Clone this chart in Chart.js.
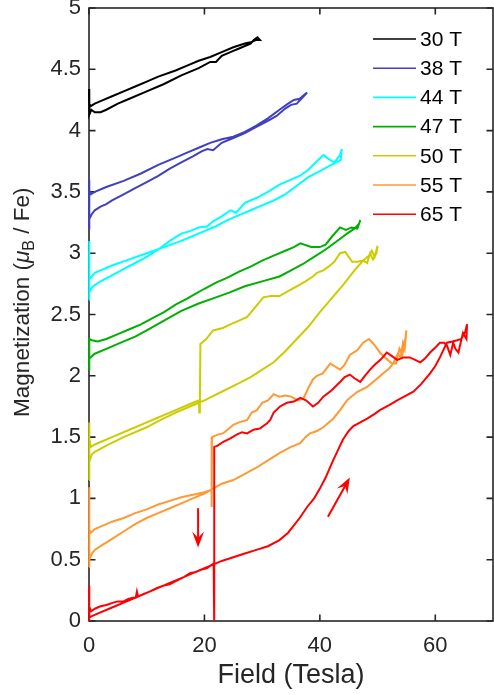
<!DOCTYPE html>
<html><head><meta charset="utf-8">
<script src="https://cdn.jsdelivr.net/npm/chart.js@4"></script>
<style>html,body{margin:0;padding:0;background:#fff}#wrap{width:494px;height:695px}</style>
</head><body><div id="wrap"><canvas id="c" width="494" height="695"></canvas></div>
<script>
// ---- data (field in Tesla, magnetization in muB/Fe), each pulse: up sweep then down sweep ----
const seriesLabels = ['30 T','38 T','44 T','47 T','50 T','55 T','65 T'];
const xTickValues = [0,20,40,60];
const yTickStep = 0.5;

const t30 = [[0,4.34],[0.05,4.13],[0.4,4.17],[1,4.15],[2,4.15],[3,4.17],[5,4.22],[7,4.26],[10,4.32],[13,4.38],[16,4.45],[19,4.51],[21,4.56],[22,4.56],[23,4.61],[24,4.63],[25,4.65],[26,4.67],[27,4.69],[28,4.71],[28.6,4.74],[29.2,4.76],[29.6,4.74],
  [29,4.74],[28,4.72],[27,4.71],[25,4.68],[23,4.64],[21,4.6],[19,4.57],[17,4.53],[15,4.49],[12,4.44],[10,4.4],[8,4.36],[6,4.32],[4,4.28],[2,4.24],[1,4.22],[0.3,4.2],[0,4.22]];

const t38 = [[0,3.2],[0,3.6],[0.1,3.28],[0.5,3.32],[1,3.35],[2,3.38],[3,3.4],[4,3.43],[6,3.48],[8,3.53],[10,3.58],[12,3.63],[14,3.69],[16,3.74],[18,3.79],[19.5,3.83],[20.5,3.85],[21.5,3.84],[23,3.9],[25,3.94],[27,3.98],[29,4.03],[31,4.08],[32.5,4.12],[34,4.18],[35,4.21],[36,4.22],[37,4.27],[37.8,4.31],
  [37.5,4.3],[36.5,4.26],[35.5,4.25],[34.5,4.22],[33,4.17],[31,4.1],[29,4.04],[27,3.99],[25,3.95],[23,3.93],[21,3.9],[19,3.86],[17,3.82],[15,3.78],[12,3.72],[9,3.65],[6,3.59],[3,3.54],[1,3.5],[0.3,3.48],[0,3.52]];

const t44 = [[0,2.62],[0,3.1],[0.1,2.68],[0.5,2.72],[1,2.74],[2,2.77],[4,2.82],[6,2.87],[8,2.92],[10,2.97],[12,3.03],[14,3.1],[16,3.16],[17.5,3.18],[19,3.21],[20.5,3.22],[21.5,3.26],[23,3.3],[24.5,3.35],[25.5,3.33],[27,3.41],[29,3.45],[31,3.5],[33,3.56],[35,3.6],[36.5,3.63],[38,3.68],[39.5,3.75],[40.6,3.8],[41.5,3.77],[42.5,3.74],[43.5,3.8],[43.8,3.85],
  [43.6,3.76],[42,3.72],[40,3.67],[38,3.62],[36,3.55],[34,3.48],[32,3.43],[30,3.39],[28,3.35],[26,3.31],[24,3.27],[22,3.22],[20,3.18],[18,3.14],[16,3.1],[13,3.05],[10,3.0],[7,2.95],[4,2.9],[2,2.86],[1,2.84],[0.3,2.8],[0,2.82]];

const t47 = [[0,2.05],[0,2.31],[0.1,2.14],[0.5,2.16],[1,2.18],[3,2.22],[5,2.26],[8,2.32],[10,2.37],[13,2.45],[16,2.53],[19,2.59],[22,2.64],[24.4,2.68],[27,2.73],[30,2.77],[33,2.81],[35,2.86],[37,2.91],[39,2.97],[41,3.03],[43,3.1],[44.7,3.16],[46,3.2],[46.8,3.24],[47,3.27],
  [46.5,3.2],[45.5,3.21],[44.5,3.19],[43.5,3.21],[42,3.13],[41,3.07],[40,3.05],[38.5,3.05],[36.6,3.08],[35.5,3.05],[34,3.02],[32,2.98],[30,2.94],[28,2.89],[26,2.85],[24,2.8],[22,2.76],[20,2.71],[18.5,2.67],[17,2.63],[15,2.58],[13,2.52],[11,2.47],[9,2.42],[7,2.38],[5,2.34],[3,2.3],[1.5,2.28],[0.5,2.29],[0,2.3]];

const t50 = [[0,1.15],[0,1.62],[0.1,1.3],[0.5,1.36],[1,1.38],[3,1.43],[6,1.5],[10,1.58],[12,1.63],[15,1.7],[18,1.76],[20,1.8],[23,1.87],[26,1.94],[28,1.99],[30,2.05],[32,2.11],[34,2.2],[36,2.3],[38,2.4],[40,2.52],[42,2.63],[44,2.74],[46,2.86],[47.5,2.94],[48.5,2.98],[49,3.02],[49.5,2.97],[50,3.06],
  [49.8,3.0],[49.2,2.95],[48.7,3.0],[48.2,2.92],[47.5,2.94],[46.5,2.93],[45.6,2.93],[44.4,3.01],[43.5,3.0],[42.5,2.93],[41.5,2.89],[40.6,2.86],[39.5,2.84],[38.8,2.81],[37.5,2.77],[36,2.73],[34.5,2.69],[33,2.65],[31.5,2.65],[30.2,2.64],[29,2.57],[27.4,2.48],[26,2.45],[24.5,2.42],[23.2,2.39],[21.5,2.37],[20.3,2.3],[19.3,2.26],[19.2,1.7],[19.1,1.8],[18,1.78],[16,1.74],[14,1.7],[12,1.66],[10,1.62],[7,1.56],[4,1.5],[2,1.46],[1,1.44],[0.3,1.42],[0,1.5]];

const t55 = [[0,0.44],[0,1.09],[0.1,0.5],[0.5,0.55],[1,0.58],[2,0.61],[4,0.67],[6,0.73],[8,0.79],[10,0.84],[12,0.88],[14,0.92],[16,0.96],[18,1.0],[20,1.04],[21.5,1.08],[23,1.12],[25,1.15],[27,1.2],[29,1.25],[31,1.31],[33,1.37],[35,1.42],[36.6,1.45],[37.5,1.5],[38.3,1.53],[39.5,1.55],[40.6,1.58],[42.3,1.65],[43.5,1.72],[44.7,1.8],[46.5,1.87],[48.2,1.91],[50,1.98],[51,2.02],[52,2.06],[52.7,2.1],[53.5,2.18],[54,2.15],[54.4,2.27],[54.7,2.22],[55,2.37],
  [54.8,2.3],[54.3,2.17],[53.8,2.22],[53.2,2.1],[52.5,2.1],[51.5,2.14],[50.4,2.19],[49.5,2.25],[48.5,2.3],[47.5,2.27],[46.5,2.21],[45.2,2.17],[44.3,2.09],[43.5,2.05],[42.5,2.08],[41.8,2.1],[40.5,2.02],[39.5,2.0],[38.8,1.97],[38,1.9],[37.2,1.82],[36.2,1.8],[35,1.83],[34,1.84],[33,1.83],[32,1.85],[31,1.8],[30,1.78],[29.1,1.72],[28.2,1.7],[27.4,1.64],[26,1.62],[25,1.6],[24,1.56],[23.2,1.53],[22.3,1.52],[21.3,1.5],[21.3,0.93],[21.2,1.07],[20,1.05],[18,1.03],[16,1.01],[14,0.98],[12,0.95],[10,0.91],[8,0.88],[6,0.84],[4,0.81],[2,0.77],[1,0.75],[0.3,0.72],[0,0.75]];

const t65 = [[0,0],[0,0.29],[0.1,0.03],[0.5,0.04],[1,0.05],[2,0.07],[4,0.11],[6,0.15],[8,0.19],[10,0.23],[12,0.27],[14,0.31],[16,0.35],[18,0.39],[20,0.43],[21.5,0.46],[23,0.49],[25,0.52],[27,0.55],[29,0.58],[31,0.61],[33,0.66],[34.5,0.72],[35.5,0.78],[36.5,0.84],[37.8,0.93],[39,1.0],[40,1.08],[41,1.17],[42.3,1.31],[43.2,1.4],[44,1.48],[45,1.55],[45.8,1.59],[47,1.62],[48.2,1.65],[49.5,1.69],[50.4,1.72],[52,1.76],[53.4,1.8],[55,1.84],[56.2,1.87],[57.5,1.93],[59.1,2.02],[60,2.08],[60.8,2.15],[61.5,2.22],[62,2.27],[63,2.28],[63.8,2.29],[64.5,2.3],[65.2,2.36],[65.5,2.42],
  [65.4,2.3],[64.8,2.35],[64.6,2.31],[64,2.19],[63.5,2.22],[63.1,2.27],[62.6,2.17],[62,2.25],[61.5,2.27],[60.8,2.27],[60,2.23],[59.1,2.19],[58.2,2.14],[57.4,2.11],[56.5,2.13],[55.6,2.15],[54.5,2.15],[53.4,2.13],[52.5,2.16],[51.6,2.19],[50.5,2.13],[49.5,2.09],[48.7,2.05],[47.8,2.0],[47,1.95],[46,1.98],[45.2,2.01],[44.3,1.99],[43.5,1.95],[42,1.88],[40.6,1.83],[39.7,1.78],[38.8,1.75],[37.6,1.8],[36.6,1.82],[35.5,1.79],[34.3,1.78],[33.1,1.75],[32,1.7],[31.4,1.64],[30.8,1.61],[29.6,1.57],[28.5,1.56],[27.4,1.53],[26.5,1.54],[25.6,1.52],[24.5,1.49],[23.2,1.46],[22.3,1.43],[21.7,1.42],[21.7,-0.05],[21.6,0.47],[20.4,0.43],[19.5,0.42],[18.5,0.4],[17.5,0.39],[16.5,0.36],[15.2,0.33],[14,0.3],[13,0.29],[11.8,0.27],[10.5,0.24],[9.5,0.22],[8.5,0.2],[8.3,0.24],[8.1,0.19],[7.6,0.19],[6.8,0.18],[6,0.16],[5,0.16],[4.2,0.15],[3,0.13],[2,0.12],[1,0.1],[0.4,0.08],[0,0.12]];

const curves = [t30,t38,t44,t47,t50,t55,t65];
// arrow annotations [fromField, fromM, toField, toM]
const arrowDown = [18.9, 0.92, 18.9, 0.60];
const arrowUp = [41.4, 0.85, 45.2, 1.17];

// ---- styles ----
const seriesColors = ['#000000','#4040C0','#00FFFF','#00B000','#CCCC00','#FF9933','#FF0000'];
const fam = '"Liberation Sans", Arial, Helvetica, sans-serif';
const axisColor = '#262626';

const framePlugin = {
  id:'frame',
  beforeDatasetsDraw(chart){
    const {ctx, chartArea:a, scales:{x,y}} = chart;
    const tl = 6.5;
    ctx.save();
    ctx.strokeStyle = axisColor; ctx.lineWidth = 1.6;
    ctx.strokeRect(a.left, a.top, a.right-a.left, a.bottom-a.top);
    ctx.beginPath();
    xTickValues.forEach(v=>{const p=x.getPixelForValue(v);ctx.moveTo(p,a.bottom);ctx.lineTo(p,a.bottom-tl);ctx.moveTo(p,a.top);ctx.lineTo(p,a.top+tl);});
    y.ticks.forEach(t=>{const p=y.getPixelForValue(t.value);ctx.moveTo(a.left,p);ctx.lineTo(a.left+tl,p);ctx.moveTo(a.right,p);ctx.lineTo(a.right-tl,p);});
    ctx.stroke();
    ctx.restore();
  },
  afterDatasetsDraw(chart){
    const {ctx, chartArea:a, scales:{x,y}} = chart;
    [arrowDown, arrowUp].forEach(ar=>{
      const x1=x.getPixelForValue(ar[0]), y1=y.getPixelForValue(ar[1]);
      const x2=x.getPixelForValue(ar[2]), y2=y.getPixelForValue(ar[3]);
      const ang=Math.atan2(y2-y1,x2-x1), L=16, W=6;
      ctx.save();
      ctx.strokeStyle='#FF0000'; ctx.fillStyle='#FF0000'; ctx.lineWidth=2;
      ctx.beginPath(); ctx.moveTo(x1,y1); ctx.lineTo(x2-Math.cos(ang)*8,y2-Math.sin(ang)*8); ctx.stroke();
      ctx.translate(x2,y2); ctx.rotate(ang);
      ctx.beginPath(); ctx.moveTo(0,0); ctx.lineTo(-L,-W); ctx.lineTo(-L*0.6,0); ctx.lineTo(-L,W); ctx.closePath(); ctx.fill();
      ctx.restore();
    });
    ctx.save();
    ctx.font = `21px ${fam}`; ctx.textBaseline='middle'; ctx.textAlign='left';
    chart.data.datasets.forEach((ds,i)=>{
      const yy = a.top + 31 + i*29.2;
      ctx.strokeStyle = ds.borderColor; ctx.lineWidth = 1.6;
      ctx.beginPath(); ctx.moveTo(a.right-120, yy); ctx.lineTo(a.right-77, yy); ctx.stroke();
      ctx.fillStyle = '#000';
      ctx.fillText(ds.label, a.right-73, yy+1);
    });
    ctx.restore();
  },
  afterDraw(chart){
    const {ctx, chartArea:a} = chart;
    const fs = 22.5;
    const parts=[{t:'Magnetization (',f:`${fs}px ${fam}`,dy:0},{t:'\u03BC',f:`italic ${fs}px ${fam}`,dy:0},{t:'B',f:`${Math.round(fs*0.7)}px ${fam}`,dy:5},{t:' / Fe)',f:`${fs}px ${fam}`,dy:0}];
    ctx.save();
    let total=0; parts.forEach(p=>{ctx.font=p.f; p.w=ctx.measureText(p.t).width; total+=p.w;});
    ctx.translate(29, a.top + (a.bottom-a.top)*0.48);
    ctx.rotate(-Math.PI/2);
    ctx.fillStyle=axisColor; ctx.textBaseline='alphabetic'; ctx.textAlign='left';
    let cx=-total/2;
    parts.forEach(p=>{ctx.font=p.f; ctx.fillText(p.t,cx,p.dy); cx+=p.w;});
    ctx.restore();
  }
};

const zeroPad = s=>{s.paddingLeft=0;s.paddingRight=0;s.paddingTop=0;s.paddingBottom=0;};

new Chart(document.getElementById('c'), {
  type:'scatter',
  data:{datasets: curves.map((c,i)=>({
    label: seriesLabels[i],
    data: c.map(p=>({x:p[0], y:p[1]})),
    showLine:true, borderColor: seriesColors[i], backgroundColor: seriesColors[i],
    borderWidth:2, pointRadius:0, pointHoverRadius:0, tension:0, fill:false,
    order: curves.length-1-i,
    clip:{left:3, top:2, right:2, bottom:0}
  }))},
  options:{
    responsive:false, animation:false, events:[],
    layout:{padding:{top:8,right:1,bottom:0,left:0}},
    plugins:{legend:{display:false}, tooltip:{enabled:false}},
    scales:{
      x:{type:'linear', min:0, max:70,
        grid:{display:false, drawTicks:false}, border:{display:false},
        ticks:{font:{family:fam,size:22}, color:axisColor, padding:12, maxRotation:0, autoSkip:false, callback:v=>String(v)},
        afterBuildTicks:s=>{s.ticks = xTickValues.map(v=>({value:v}));},
        afterFit:s=>{s.height=74; zeroPad(s);},
        title:{display:true, text:'Field (Tesla)', color:axisColor, font:{family:fam,size:27}, padding:{top:0,bottom:3}}
      },
      y:{type:'linear', min:0, max:5,
        grid:{display:false, drawTicks:false}, border:{display:false},
        ticks:{stepSize:yTickStep, font:{family:fam,size:22}, color:axisColor, padding:8, callback:v=>String(Math.round(v*10)/10)},
        afterFit:s=>{s.width=89; zeroPad(s);}
      }
    }
  },
  plugins:[framePlugin]
});
</script></body></html>
